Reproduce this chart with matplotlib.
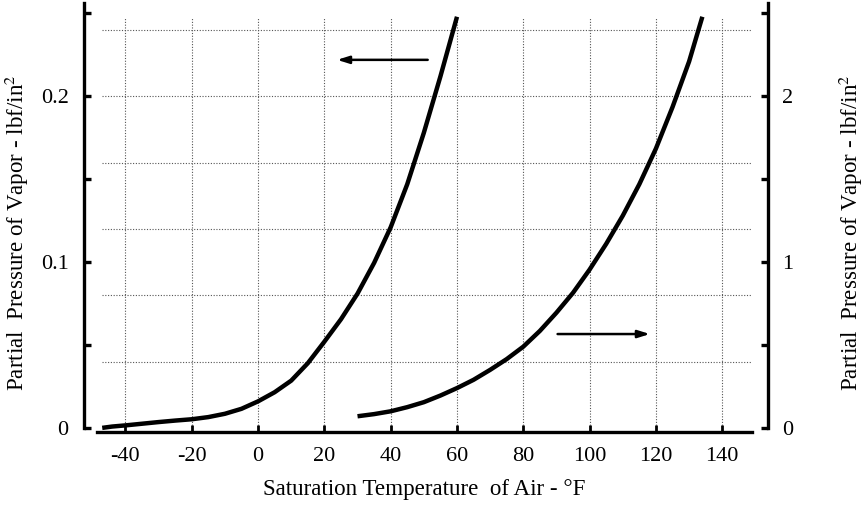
import matplotlib
matplotlib.use("Agg")
import matplotlib.pyplot as plt

plt.rcParams['font.family'] = ['Liberation Serif', 'DejaVu Serif']
plt.rcParams['mathtext.fontset'] = 'stix'

# Left curve (left axis, lbf/in^2), temperature in F
t_low = [-47, -44, -40, -35, -30, -25, -20, -15, -10, -5, 0, 5, 10, 15, 20,
         25, 30, 35, 40, 45, 50, 55, 60]
p_low = [0.0, 0.0008, 0.0015, 0.0025, 0.0035, 0.0044, 0.0052, 0.0065, 0.0085,
         0.0115, 0.0160, 0.0215, 0.0285, 0.039, 0.052, 0.0655, 0.081, 0.0995,
         0.121, 0.147, 0.178, 0.212, 0.248]

# Right curve (right axis, lbf/in^2)
t_high = [30, 35, 40, 45, 50, 55, 60, 65, 70, 75, 80, 85, 90, 95, 100, 105,
          110, 115, 120, 125, 130, 134]
p_high = [0.07, 0.083, 0.10, 0.125, 0.155, 0.195, 0.24, 0.29, 0.35, 0.415, 0.49,
          0.585, 0.695, 0.815, 0.955, 1.11, 1.28, 1.47, 1.685, 1.935, 2.21, 2.48]

x_ticks = [-40, -20, 0, 20, 40, 60, 80, 100, 120, 140]
x_labels = ['-40', '-20', '0', '20', '40', '60', '80', '100', '120', '140']
yl_ticks = [0, 0.05, 0.1, 0.15, 0.2, 0.25]
yl_labels = ['0', '', '0.1', '', '0.2', '']
yr_ticks = [0, 0.5, 1, 1.5, 2, 2.5]
yr_labels = ['0', '', '1', '', '2', '']
h_grid = [0.04, 0.08, 0.12, 0.16, 0.20, 0.24]

fig = plt.figure(figsize=(8.64, 5.14), dpi=100)
ax = fig.add_axes([0.0972, 0.1595, 0.7917, 0.8305])
ax.set_xlim(-52.5, 153.8)
ax.set_ylim(-0.0025, 0.255)
ax2 = ax.twinx()
ax2.set_ylim(-0.025, 2.55)

grid_kw = dict(color='#555555', linestyle=(0, (1, 1.5)), linewidth=0.8, zorder=0)
ax.hlines(h_grid, -47, 149, **grid_kw)
ax.vlines(x_ticks, 0, 0.247, **grid_kw)

ax.plot(t_low, p_low, color='black', lw=3.2, solid_capstyle='butt', zorder=3)
ax2.plot(t_high, p_high, color='black', lw=3.2, solid_capstyle='butt', zorder=3)

# arrows
ax.annotate('', xy=(23, 0.222), xytext=(52, 0.222),
            arrowprops=dict(arrowstyle='-|>,head_length=0.7,head_width=0.22', color='black', lw=1.8))
ax.annotate('', xy=(119, 0.0566), xytext=(89.5, 0.0566),
            arrowprops=dict(arrowstyle='-|>,head_length=0.7,head_width=0.22', color='black', lw=1.8))

for a in (ax, ax2):
    a.spines['top'].set_visible(False)
ax.spines['right'].set_visible(False)
ax2.spines['left'].set_visible(False)
ax2.spines['bottom'].set_visible(False)

ax.spines['left'].set_bounds(0, 0.256)
ax.spines['left'].set_linewidth(2.4)
ax.spines['bottom'].set_bounds(-48.5, 149)
ax.spines['bottom'].set_linewidth(2.4)
ax2.spines['right'].set_bounds(0, 2.56)
ax2.spines['right'].set_linewidth(2.4)

ax.set_xticks(x_ticks)
ax.set_xticklabels(x_labels)
ax.set_yticks(yl_ticks)
ax.set_yticklabels(yl_labels)
ax2.set_yticks(yr_ticks)
ax2.set_yticklabels(yr_labels)

ax.tick_params(axis='x', direction='in', length=5, width=2, pad=11, labelsize=16)
ax.tick_params(axis='y', direction='in', length=5, width=2.4, pad=11, labelsize=16)
ax2.tick_params(axis='y', direction='in', length=5, width=2.4, pad=10, labelsize=16)

ax.set_xlabel('Saturation Temperature  of Air - °F', fontsize=16.6)
ax.xaxis.set_label_coords(0.497, -0.110)
ax.set_ylabel('Partial  Pressure of Vapor - lbf/in$^{2}$', fontsize=16.6)
ax.yaxis.set_label_coords(-0.078, 0.468)
ax2.set_ylabel('Partial  Pressure of Vapor - lbf/in$^{2}$', fontsize=16.6, rotation=90)
ax2.yaxis.set_label_coords(1.100, 0.468)

fig.savefig('out.png', dpi=100)
